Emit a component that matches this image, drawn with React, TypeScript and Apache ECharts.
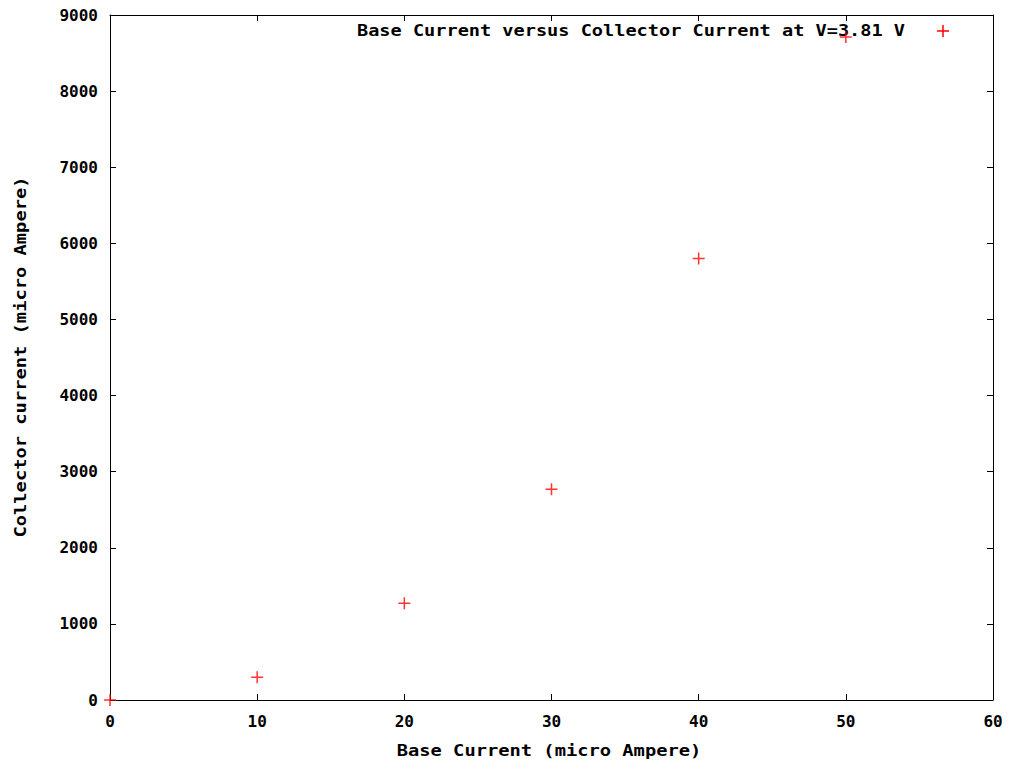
import React, { useEffect, useRef } from "react";
import * as echarts from "echarts";

const baseCurrent = [0, 10, 20, 30, 40, 50];
const collectorCurrent = [0, 300, 1270, 2770, 5800, 8710];
const seriesName = "Base Current versus Collector Current at V=3.81 V";
const xAxisTitle = "Base Current (micro Ampere)";
const yAxisTitle = "Collector current (micro Ampere)";

const FONT = "'DejaVu Sans Mono', monospace";
const PLUS = "path://M0,6 L12,6 M6,0 L6,12";

export default function App() {
  const ref = useRef<HTMLDivElement>(null);
  useEffect(() => {
    document.body.style.margin = "0";
    const chart = echarts.init(ref.current!, undefined, { renderer: "svg" });
    const axisCommon = {
      axisLine: { show: true, onZero: false, lineStyle: { color: "#000", width: 1 } },
      axisTick: { show: true, inside: true, length: 6, lineStyle: { color: "#000", width: 1 } },
      splitLine: { show: false },
    };
    const labelStyle = {
      color: "#000",
      fontFamily: FONT,
      fontWeight: "bold" as const,
      fontSize: 16,
      formatter: (v: number) => String(v),
    };
    chart.setOption({
      animation: false,
      backgroundColor: "#fff",
      grid: { left: 110, right: 21, top: 15, bottom: 70, containLabel: false },
      xAxis: [
        {
          type: "value", min: 0, max: 60, interval: 10, position: "bottom",
          ...axisCommon,
          axisLabel: { ...labelStyle, margin: 13 },
        },
        {
          type: "value", min: 0, max: 60, interval: 10, position: "top",
          ...axisCommon,
          axisLabel: { show: false },
        },
      ],
      yAxis: [
        {
          type: "value", min: 0, max: 9000, interval: 1000, position: "left",
          ...axisCommon,
          axisLabel: { ...labelStyle, margin: 12 },
        },
        {
          type: "value", min: 0, max: 9000, interval: 1000, position: "right",
          ...axisCommon,
          axisLabel: { show: false },
        },
      ],
      series: [
        {
          type: "scatter",
          name: seriesName,
          clip: false,
          data: baseCurrent.map((x, i) => [x, collectorCurrent[i]]),
          symbol: PLUS,
          symbolSize: 12,
          itemStyle: { color: "#ff0000", borderColor: "#ff0000", borderWidth: 1.5 },
        },
      ],
      graphic: [
        {
          type: "text",
          x: 549, y: 751, scaleX: 1.25,
          style: { text: xAxisTitle, fill: "#000", font: `bold 15px ${FONT}`, textAlign: "center", textVerticalAlign: "middle" },
        },
        {
          type: "text",
          x: 21, y: 357, rotation: Math.PI / 2, scaleX: 1.25,
          style: { text: yAxisTitle, fill: "#000", font: `bold 15px ${FONT}`, textAlign: "center", textVerticalAlign: "middle" },
        },
        {
          type: "text",
          x: 905, y: 31, scaleX: 1.24,
          style: { text: seriesName, fill: "#000", font: `bold 15px ${FONT}`, textAlign: "right", textVerticalAlign: "middle" },
        },
        {
          type: "line",
          shape: { x1: 937, y1: 31, x2: 949, y2: 31 },
          style: { stroke: "#ff0000", lineWidth: 1.5 },
        },
        {
          type: "line",
          shape: { x1: 943, y1: 25, x2: 943, y2: 37 },
          style: { stroke: "#ff0000", lineWidth: 1.5 },
        },
      ],
    });
    return () => chart.dispose();
  }, []);
  return <div ref={ref} style={{ width: 1014, height: 770 }} />;
}
